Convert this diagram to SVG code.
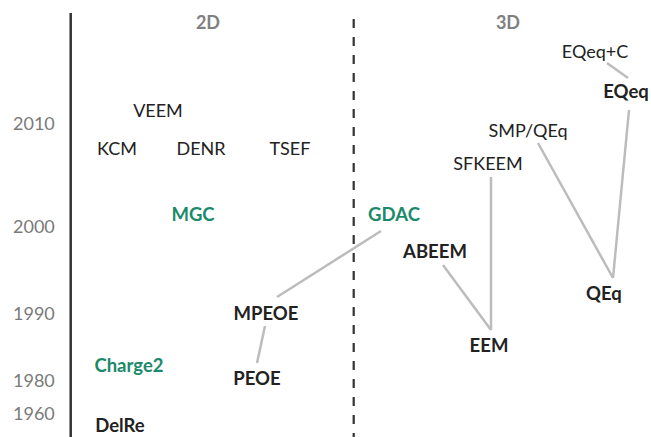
<svg xmlns="http://www.w3.org/2000/svg" width="651" height="437" viewBox="0 0 651 437">
<style>
text{font-family:Lato,"Open Sans","Liberation Sans",sans-serif;text-anchor:middle;font-size:18px;fill:#222}
.b{font-weight:bold;font-size:18.5px}
.g{fill:#1a8a6a;font-weight:bold;font-size:18.5px}
.h{fill:#808080;font-weight:bold;font-size:18px}
.y{fill:#7a7a7a;font-size:18px;text-anchor:start}
.c{stroke:#bcbcbc;stroke-width:2.5;fill:none}
</style>
<rect width="651" height="437" fill="#fff"/>
<g id="axes">
<line x1="70.7" y1="13" x2="70.7" y2="437" stroke="#333" stroke-width="2.5"/>
<line x1="353.7" y1="19" x2="353.7" y2="437" stroke="#333" stroke-width="2.2" stroke-dasharray="9 9"/>
<text class="h" x="208" y="29">2D</text>
<text class="h" x="508" y="29">3D</text>
<text class="y" x="13" y="130">2010</text>
<text class="y" x="13" y="233">2000</text>
<text class="y" x="13" y="320">1990</text>
<text class="y" x="13" y="387">1980</text>
<text class="y" x="13" y="420">1960</text>
</g>
<g id="connectors">
<line class="c" x1="607" y1="63" x2="628" y2="78"/>
<line class="c" x1="629" y1="110" x2="613" y2="278"/>
<line class="c" x1="538" y1="143" x2="613" y2="278"/>
<line class="c" x1="491" y1="177" x2="491" y2="330"/>
<line class="c" x1="443" y1="265" x2="491" y2="330"/>
<line class="c" x1="381" y1="231" x2="277" y2="297"/>
<line class="c" x1="265" y1="326" x2="257" y2="363"/>
</g>
<g id="VEEM"><text x="158" y="117">VEEM</text></g>
<g id="KCM"><text x="117" y="155">KCM</text></g>
<g id="DENR"><text x="201" y="155">DENR</text></g>
<g id="TSEF"><text x="290" y="155">TSEF</text></g>
<g id="MGC"><text class="g" x="193" y="221">MGC</text></g>
<g id="GDAC"><text class="g" x="394" y="221">GDAC</text></g>
<g id="Charge2"><text class="g" x="129" y="372">Charge2</text></g>
<g id="MPEOE"><text class="b" x="266" y="320">MPEOE</text></g>
<g id="PEOE"><text class="b" x="257" y="385">PEOE</text></g>
<g id="DelRe"><text class="b" x="120" y="432">DelRe</text></g>
<g id="ABEEM"><text class="b" x="435" y="258">ABEEM</text></g>
<g id="EEM"><text class="b" x="489" y="352">EEM</text></g>
<g id="SFKEEM"><text x="488" y="170">SFKEEM</text></g>
<g id="SMPQEq"><text x="528" y="137">SMP/QEq</text></g>
<g id="EQeqC"><text x="595" y="58">EQeq+C</text></g>
<g id="EQeq"><text class="b" x="626" y="98">EQeq</text></g>
<g id="QEq"><text class="b" x="604" y="300">QEq</text></g>
</svg>
